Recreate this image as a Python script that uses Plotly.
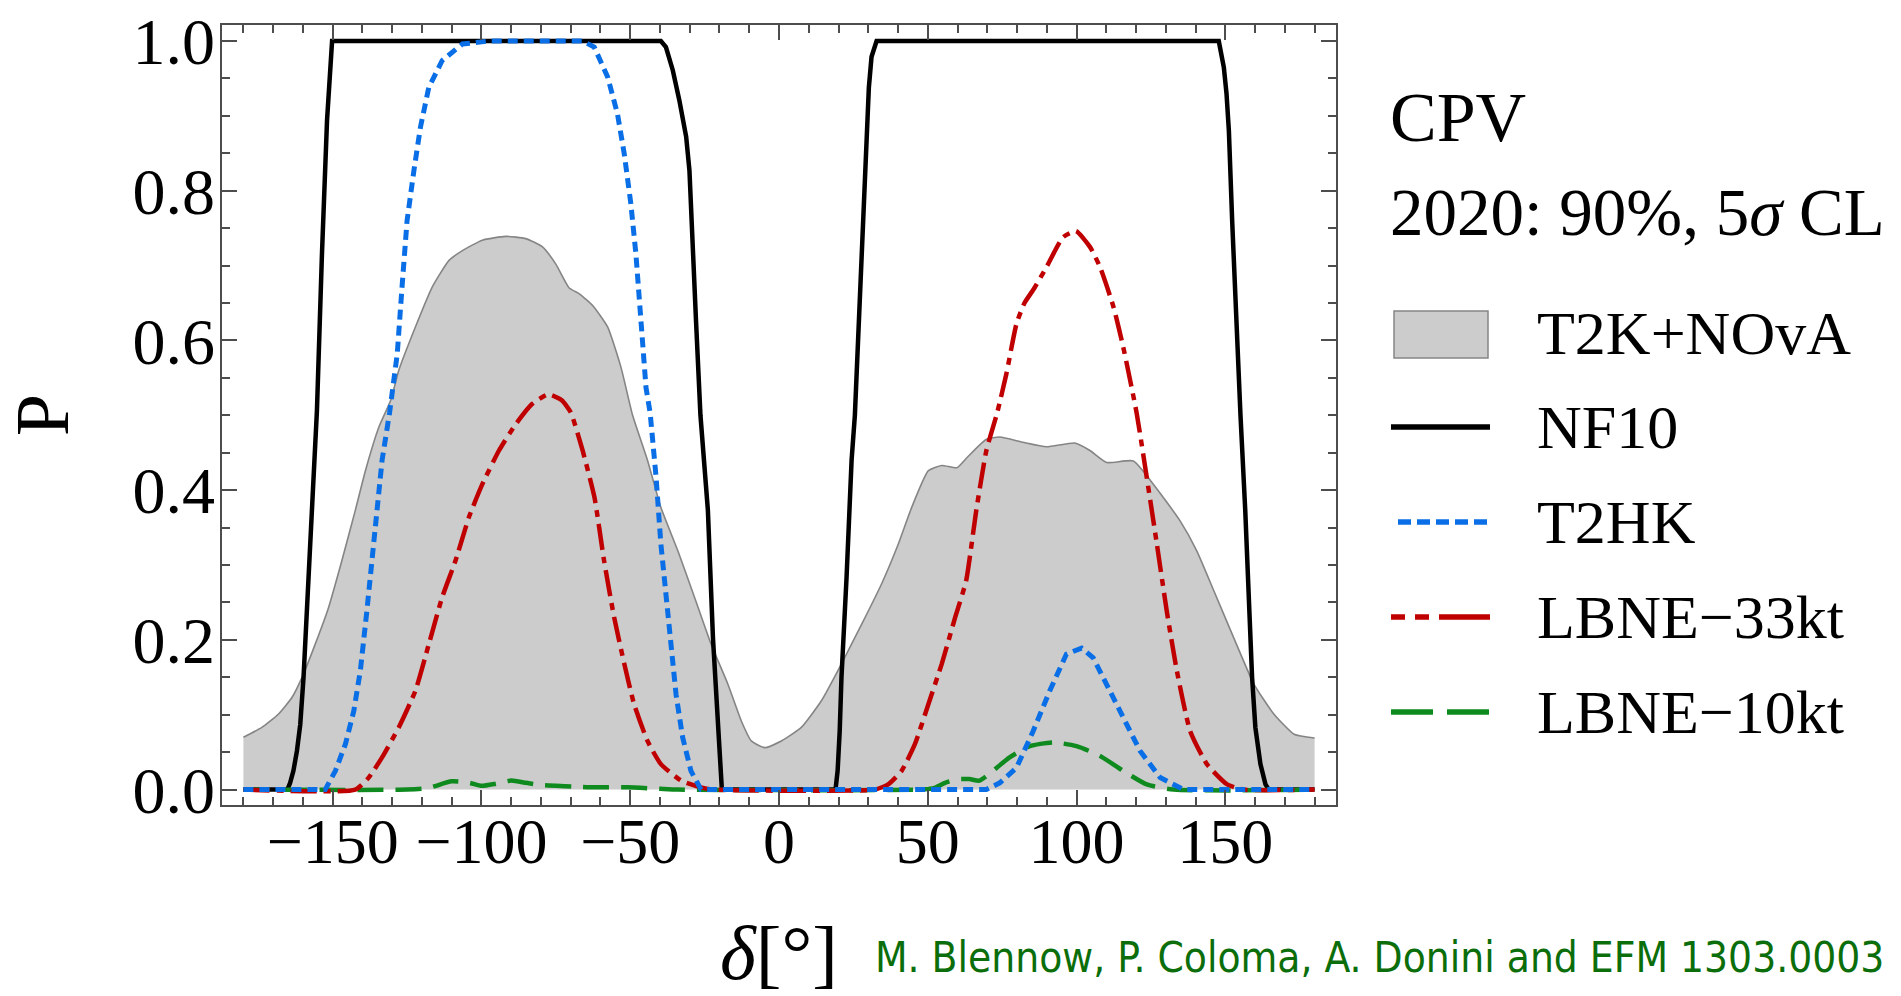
import plotly.graph_objects as go

# ---------------- data ----------------
T2K_NOVA_x = [-180, -173.8, -168.2, -163.7, -160.3, -155.9, -151.4, -146.9, -142.4, -139.0, -134.5,
              -130.5, -127.8, -122.2, -116.6, -110.9, -106.4, -99.7, -91.8, -85.1, -79.5, -75.0,
              -70.5, -67.0, -62.5, -57.6, -53.1, -49.2, -44.2, -39.7, -34.0, -28.4, -22.8, -17.2,
              -12.7, -9.3, -4.8, 0.8, 7.5, 14.3, 21.0, 27.8, 34.5, 40.1, 44.6, 50.2, 54.7, 59.8,
              63.3, 69.7, 74.2, 82.0, 89.9, 99.4, 104.5, 110.1, 119.1, 125.8, 134.8, 140.4, 146.1,
              152.8, 159.6, 166.3, 173.1, 180]
T2K_NOVA_y = [0.070, 0.083, 0.101, 0.123, 0.150, 0.194, 0.243, 0.306, 0.373, 0.426, 0.484,
              0.520, 0.560, 0.618, 0.671, 0.707, 0.720, 0.734, 0.739, 0.736, 0.725, 0.702,
              0.670, 0.662, 0.646, 0.618, 0.564, 0.500, 0.440, 0.377, 0.319, 0.257, 0.194, 0.141,
              0.092, 0.065, 0.056, 0.065, 0.083, 0.119, 0.168, 0.221, 0.275, 0.328, 0.377, 0.426,
              0.433, 0.430, 0.444, 0.468, 0.471, 0.464, 0.458, 0.463, 0.453, 0.437, 0.439, 0.408,
              0.359, 0.319, 0.266, 0.203, 0.141, 0.101, 0.074, 0.069]

NF10_x = [-180, -165.2, -164.3, -163.2, -162.0, -160.9, -159.8, -158.7, -157.5, -156.4, -155.3,
          -153.6, -151.9, -150.2, -39.7, -38.0, -35.7, -33.5, -31.2, -30.1, -29.0, -27.9, -26.4,
          -23.9, -22.2, -20.6, -20.0, -19.2, 19.0, 19.7, 20.4, 21.0, 22.7, 24.4, 25.5, 27.2, 28.9,
          30.2, 31.1, 32.8, 147.8, 149.5, 150.4, 151.2, 152.3, 153.4, 155.1, 156.7, 157.9, 159.0,
          160.1, 161.8, 163.5, 164.6, 180]
NF10_y = [0, 0, 0.009, 0.025, 0.052, 0.087, 0.150, 0.239, 0.328, 0.440, 0.506,
          0.716, 0.894, 1.0, 1.0, 0.992, 0.961, 0.921, 0.872, 0.827, 0.716, 0.627, 0.500,
          0.373, 0.203, 0.083, 0.034, 0, 0, 0.025, 0.078, 0.150, 0.283, 0.440, 0.500, 0.671, 0.827,
          0.938, 0.979, 1.0, 1.0, 0.965, 0.930, 0.880, 0.760, 0.650, 0.500, 0.373, 0.261, 0.150,
          0.083, 0.034, 0.007, 0, 0]

T2HK_x = [-180, -152.5, -149.1, -145.7, -142.9, -140.7, -138.5, -136.8, -135.1, -133.4, -130.9,
          -128.3, -126.7, -125.0, -122.7, -120.5, -117.7, -113.2, -106.4, -97.5, -66.0, -62.1,
          -57.6, -54.3, -52.0, -49.8, -48.1, -46.4, -44.7, -43.3, -41.3, -39.7, -38.0, -36.3,
          -34.6, -32.4, -29.6, -26.2, 69.7, 74.2, 79.8, 85.4, 91.0, 96.6, 101.7, 105.6, 110.1,
          115.7, 121.3, 128.1, 136.0, 180]
T2HK_y = [0, 0, 0.025, 0.061, 0.105, 0.159, 0.239, 0.306, 0.373, 0.440, 0.503,
          0.582, 0.671, 0.760, 0.827, 0.885, 0.938, 0.974, 0.996, 1.0, 1.0, 0.992,
          0.952, 0.903, 0.849, 0.783, 0.716, 0.627, 0.537, 0.503, 0.417, 0.328, 0.261, 0.194,
          0.127, 0.070, 0.025, 0, 0, 0.009, 0.029, 0.078, 0.132, 0.181, 0.189, 0.176, 0.141,
          0.096, 0.052, 0.016, 0, 0]

LBNE33_x = [-180, -142.4, -137.9, -133.4, -127.8, -122.2, -117.7, -113.2, -108.7, -104.2, -99.7,
            -94.1, -88.5, -83.0, -77.5, -73.0, -70.0, -66.0, -62.0, -58.8, -55.4, -52.0, -48.7,
            -44.2, -39.7, -32.9, -26.2, -22.0, 32.2, 36.7, 41.2, 45.7, 50.2, 54.7, 59.2, 62.9,
            66.3, 69.7, 73.3, 76.4, 79.8, 82.5, 85.5, 89.9, 95.5, 99.8, 104.5, 107.9, 112.4,
            115.7, 120.2, 123.6, 127.0, 130.3, 133.7, 138.2, 143.8, 150.6, 156.2, 180]
LBNE33_y = [0, 0, 0.016, 0.043, 0.083, 0.132, 0.194, 0.257, 0.306, 0.364, 0.408,
            0.453, 0.488, 0.515, 0.528, 0.520, 0.504, 0.453, 0.390, 0.306, 0.230, 0.168, 0.114,
            0.065, 0.034, 0.012, 0.003, 0, 0, 0.007, 0.025, 0.061, 0.114, 0.168, 0.230, 0.279,
            0.373, 0.453, 0.503, 0.555, 0.622, 0.650, 0.668, 0.698, 0.738, 0.746, 0.725, 0.698,
            0.645, 0.591, 0.503, 0.417, 0.328, 0.239, 0.159, 0.078, 0.034, 0.007, 0, 0]

LBNE10_x = [-180, -125, -118, -110, -104, -100, -95, -90, -85, -80, -75, -69, -62, -51, -40,
            -34, 48, 52, 55.8, 60.3, 64, 67.4, 71.9, 77.5, 84.3, 92.1, 100, 107.9, 115.7, 123.6,
            132.6, 180]
LBNE10_y = [0, 0, 0.002, 0.011, 0.009, 0.005, 0.008, 0.012, 0.009, 0.006, 0.005, 0.004, 0.003,
            0.003, 0.001, 0, 0, 0.002, 0.009, 0.014, 0.014, 0.012, 0.025, 0.043, 0.058, 0.063,
            0.058, 0.045, 0.025, 0.007, 0, 0]

X_TICKS = [-150, -100, -50, 0, 50, 100, 150]
Y_TICKS = [0.0, 0.2, 0.4, 0.6, 0.8, 1.0]

SERIES_NAMES = ["T2K+NOvA", "NF10", "T2HK", "LBNE\u221233kt", "LBNE\u221210kt"]

# ---------------- styling ----------------
SERIF = "Liberation Serif, Times New Roman, serif"
FRAME = "#4d4d4d"
GRAY_FILL = "#cccccc"
GRAY_LINE = "#858585"
BLACK = "#000000"
BLUE = "#0a6fe6"
RED = "#c00000"
GREEN = "#0f8a1e"

W, H = 1901, 996
ML, MR, MT, MB = 222, 565, 25, 191
PW, PH = W - ML - MR, H - MT - MB


def px(x):
    return (x - ML) / PW


def py(y):
    return (H - MB - y) / PH


fig = go.Figure()
fig.add_trace(go.Scatter(x=T2K_NOVA_x, y=T2K_NOVA_y, mode="lines", fill="tozeroy",
                         fillcolor=GRAY_FILL, line=dict(color=GRAY_LINE, width=1.6, shape="spline", smoothing=0.5),
                         name=SERIES_NAMES[0], showlegend=False))
fig.add_trace(go.Scatter(x=NF10_x, y=NF10_y, mode="lines",
                         line=dict(color=BLACK, width=4.5),
                         name=SERIES_NAMES[1], showlegend=False))
fig.add_trace(go.Scatter(x=LBNE10_x, y=LBNE10_y, mode="lines",
                         line=dict(color=GREEN, width=4.5, dash="26px,12px", shape="spline", smoothing=0.6),
                         name=SERIES_NAMES[4], showlegend=False))
fig.add_trace(go.Scatter(x=LBNE33_x, y=LBNE33_y, mode="lines",
                         line=dict(color=RED, width=4.5, dash="26px,7px,7px,7px", shape="spline", smoothing=0.5),
                         name=SERIES_NAMES[3], showlegend=False))
fig.add_trace(go.Scatter(x=T2HK_x, y=T2HK_y, mode="lines",
                         line=dict(color=BLUE, width=5, dash="10px,6px"),
                         name=SERIES_NAMES[2], showlegend=False))

axis_common = dict(showline=True, linecolor=FRAME, linewidth=1.5, mirror="ticks",
                   ticks="inside", tickcolor=FRAME, tickwidth=1.5, ticklen=15,
                   showgrid=False, zeroline=False)

fig.update_xaxes(range=[-187.2, 187.2], tickvals=X_TICKS, ticklabelstandoff=-21,
                 tickfont=dict(family=SERIF, size=64, color="black"),
                 minor=dict(ticks="inside", dtick=10, tick0=0, ticklen=8, tickcolor=FRAME, tickwidth=1.5),
                 title=dict(text="<i>\u03b4</i>[\u00b0]", font=dict(family=SERIF, size=77, color="black"), standoff=73),
                 **axis_common)
fig.update_yaxes(range=[-0.0206, 1.0214], tickvals=Y_TICKS, tickformat=".1f", ticklabelstandoff=-8,
                 tickfont=dict(family=SERIF, size=66, color="black"),
                 minor=dict(ticks="inside", dtick=0.05, tick0=0, ticklen=8, tickcolor=FRAME, tickwidth=1.5),
                 title=dict(text="P", font=dict(family=SERIF, size=76, color="black"), standoff=47),
                 **axis_common)

# ---------------- legend (drawn at the right) ----------------
shapes = []
annotations = []
LX0, LX1 = 1391, 1490
TX = 1535
rows_y = [333, 427, 522, 617, 712]

shapes.append(dict(type="rect", xref="paper", yref="paper",
                   x0=px(1394), x1=px(1488), y0=py(358), y1=py(311),
                   fillcolor=GRAY_FILL, line=dict(color=GRAY_LINE, width=1.5)))
shapes.append(dict(type="line", xref="paper", yref="paper", x0=px(LX0), x1=px(LX1),
                   y0=py(rows_y[1]), y1=py(rows_y[1]), line=dict(color=BLACK, width=5.5)))
shapes.append(dict(type="line", xref="paper", yref="paper", x0=px(1398), x1=px(LX1),
                   y0=py(rows_y[2]), y1=py(rows_y[2]), line=dict(color=BLUE, width=5.5, dash="13px,6px")))
shapes.append(dict(type="line", xref="paper", yref="paper", x0=px(LX0), x1=px(LX1),
                   y0=py(rows_y[3]), y1=py(rows_y[3]),
                   line=dict(color=RED, width=5.5, dash="14px,10px,14px,10px,53px,10px")))
shapes.append(dict(type="line", xref="paper", yref="paper", x0=px(LX0), x1=px(LX1),
                   y0=py(rows_y[4]), y1=py(rows_y[4]), line=dict(color=GREEN, width=5.5, dash="42px,14px")))

for name, yy in zip(SERIES_NAMES, rows_y):
    annotations.append(dict(text=name, xref="paper", yref="paper", x=px(TX), y=py(yy),
                            xanchor="left", yanchor="middle", showarrow=False,
                            font=dict(family=SERIF, size=62, color="black")))

annotations.append(dict(text="CPV", xref="paper", yref="paper", x=px(1388), y=py(117),
                        xanchor="left", yanchor="middle", showarrow=False,
                        font=dict(family=SERIF, size=70, color="black")))
annotations.append(dict(text="2020: 90%, 5<i>\u03c3</i> CL", xref="paper", yref="paper", x=px(1388), y=py(212),
                        xanchor="left", yanchor="middle", showarrow=False,
                        font=dict(family=SERIF, size=67, color="black")))
annotations.append(dict(text="M. Blennow, P. Coloma, A. Donini and EFM 1303.0003",
                        xref="paper", yref="paper", x=px(873), y=py(957),
                        xanchor="left", yanchor="middle", showarrow=False,
                        font=dict(family="Liberation Sans Narrow, DejaVu Sans Condensed, Liberation Sans, sans-serif",
                                  size=42, color="#0b6e0b")))

fig.update_layout(width=W, height=H, margin=dict(l=ML, r=MR, t=MT, b=MB, autoexpand=False),
                  paper_bgcolor="white", plot_bgcolor="white",
                  shapes=shapes, annotations=annotations, showlegend=False)

fig.write_html("out.html")
